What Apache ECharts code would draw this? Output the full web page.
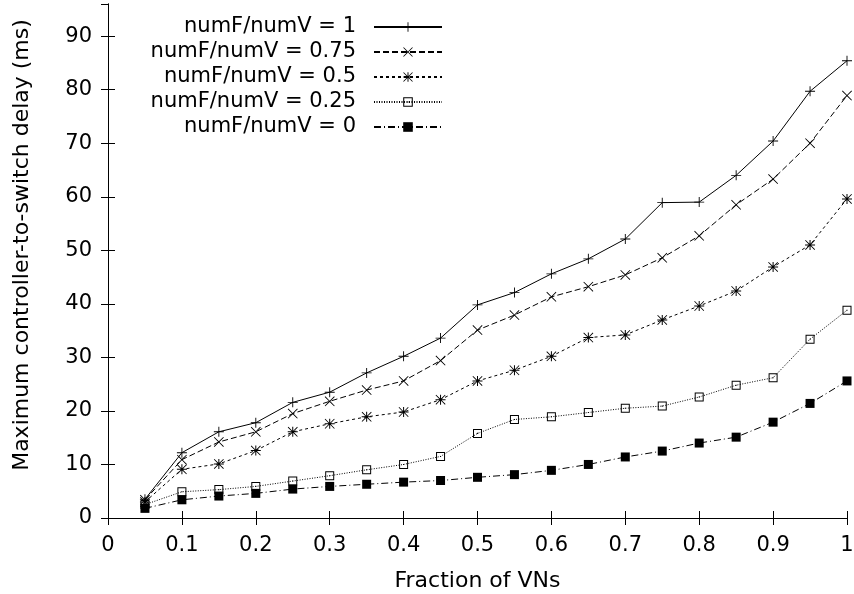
<!DOCTYPE html>
<html>
<head>
<meta charset="utf-8">
<script src="https://cdn.jsdelivr.net/npm/echarts@6/dist/echarts.min.js"></script>
<style>
  html, body { margin: 0; padding: 0; background: #fff; }
  #chart { width: 854px; height: 594px; }
</style>
</head>
<body>
<div id="chart"></div>
<script>
// Fraction of VNs (x) for every measured point
const fractions = [0.05, 0.1, 0.15, 0.2, 0.25, 0.3, 0.35, 0.4, 0.45, 0.5,
                   0.55, 0.6, 0.65, 0.7, 0.75, 0.8, 0.85, 0.9, 0.95, 1];

// Maximum controller-to-switch delay (ms) for each numF/numV ratio
const ratio1   = [3.5, 12.2, 16.1, 17.8, 21.6, 23.5, 27.1, 30.2, 33.6, 39.8,
                  42.1, 45.6, 48.4, 52.1, 58.9, 59.0, 64.0, 70.4, 79.7, 85.4];
const ratio075 = [3.4, 10.9, 14.2, 16.1, 19.5, 21.8, 23.9, 25.6, 29.4, 35.1,
                  37.9, 41.3, 43.2, 45.4, 48.6, 52.7, 58.5, 63.3, 70.0, 78.9];
const ratio05  = [3.0, 9.1, 10.1, 12.6, 16.1, 17.6, 18.9, 19.8, 22.1, 25.6,
                  27.6, 30.2, 33.7, 34.2, 37.0, 39.6, 42.4, 46.9, 51.0, 59.6];
const ratio025 = [2.5, 4.9, 5.3, 5.9, 6.9, 7.9, 9.0, 10.0, 11.5, 15.8,
                  18.4, 18.9, 19.7, 20.5, 20.9, 22.6, 24.8, 26.2, 33.4, 38.8];
const ratio0   = [1.8, 3.4, 4.1, 4.6, 5.4, 5.9, 6.3, 6.7, 7.0, 7.6,
                  8.1, 8.9, 10.0, 11.4, 12.5, 14.0, 15.1, 17.9, 21.4, 25.6];

const seriesNames = ['numF/numV = 1', 'numF/numV = 0.75', 'numF/numV = 0.5',
                     'numF/numV = 0.25', 'numF/numV = 0'];

const FONT = 'DejaVu Sans, Liberation Sans, sans-serif';

// point glyphs drawn as filled paths in a 10x10 box
const PLUS = 'path://M0,4.55H10V5.45H0Z M4.55,0H5.45V10H4.55Z';
const CROSS = 'path://M0.6,0L5,4.4L9.4,0L10,0.6L5.6,5L10,9.4L9.4,10L5,5.6L0.6,10L0,9.4L4.4,5L0,0.6Z';
const STAR = 'path://M0.6,0L5,4.4L9.4,0L10,0.6L5.6,5L10,9.4L9.4,10L5,5.6L0.6,10L0,9.4L4.4,5L0,0.6Z M0,4.5H10V5.5H0Z M4.5,0H5.5V10H4.5Z';
const BOX = 'path://M0,0H10V10H0Z M1.1,1.1V8.9H8.9V1.1Z M4.4,4.4H5.6V5.6H4.4Z';
const FILLED = 'path://M0,0H10V10H0Z';

function pairs(ys) {
  return fractions.map((x, i) => [x, ys[i]]);
}

function makeSeries(name, ys, symbol, size, dash) {
  return {
    name: name,
    type: 'line',
    data: pairs(ys),
    xAxisIndex: 0,
    yAxisIndex: 0,
    symbol: symbol,
    symbolSize: size,
    showAllSymbol: true,
    animation: false,
    lineStyle: { color: '#000', width: 1, type: dash },
    itemStyle: { color: '#000', borderWidth: 0 },
    emphasis: { disabled: true }
  };
}

const tickStyle = { inside: true, length: 7, lineStyle: { color: '#000', width: 1 } };
const lineStyle = { show: true, lineStyle: { color: '#000', width: 1 } };

const chart = echarts.init(document.getElementById('chart'), null, { renderer: 'canvas' });
chart.setOption({
  backgroundColor: '#fff',
  animation: false,
  textStyle: { fontFamily: FONT },
  grid: { left: 108, right: 7, top: 4, bottom: 76, containLabel: false, outerBoundsMode: 'none' },
  legend: {
    orient: 'vertical',
    align: 'right',
    right: 411,
    top: 16,
    padding: 0,
    itemWidth: 68,
    itemHeight: 12,
    itemGap: 3,
    selectedMode: false,
    textStyle: { fontFamily: FONT, fontSize: 21, color: '#000', lineHeight: 22, padding: [0, 13, 0, 0] },
    data: seriesNames
  },
  xAxis: [{
    type: 'value', min: 0, max: 1, interval: 0.1,
    position: 'bottom',
    name: 'Fraction of VNs',
    nameLocation: 'middle',
    nameGap: 52,
    nameTextStyle: { fontFamily: FONT, fontSize: 22, color: '#000' },
    axisLine: lineStyle, axisTick: tickStyle,
    axisLabel: { fontFamily: FONT, fontSize: 21, color: '#000', margin: 17 },
    splitLine: { show: false }
  }, {
    type: 'value', min: 0, max: 1, interval: 0.1,
    position: 'top',
    axisLine: lineStyle, axisTick: tickStyle,
    axisLabel: { show: false }, splitLine: { show: false }
  }],
  yAxis: [{
    type: 'value', min: 0, max: 96, interval: 10,
    position: 'left',
    axisLine: lineStyle, axisTick: tickStyle,
    axisLabel: { fontFamily: FONT, fontSize: 21, color: '#000', margin: 16, showMaxLabel: false },
    splitLine: { show: false }
  }, {
    type: 'value', min: 0, max: 96, interval: 10,
    position: 'right',
    axisLine: lineStyle, axisTick: tickStyle,
    axisLabel: { show: false }, splitLine: { show: false }
  }],
  graphic: [{
    type: 'text',
    x: 22, y: 245,
    rotation: Math.PI / 2,
    style: {
      text: 'Maximum controller-to-switch delay (ms)',
      font: '22px ' + FONT,
      fill: '#000',
      align: 'center',
      verticalAlign: 'middle'
    }
  }],
  series: [
    makeSeries(seriesNames[0], ratio1, PLUS, 10, 'solid'),
    makeSeries(seriesNames[1], ratio075, CROSS, 10, [6, 3]),
    makeSeries(seriesNames[2], ratio05, STAR, 10, [3, 3]),
    makeSeries(seriesNames[3], ratio025, BOX, 9, [1, 1.5]),
    makeSeries(seriesNames[4], ratio0, FILLED, 9, [7, 3, 1, 3])
  ]
});
</script>
</body>
</html>
